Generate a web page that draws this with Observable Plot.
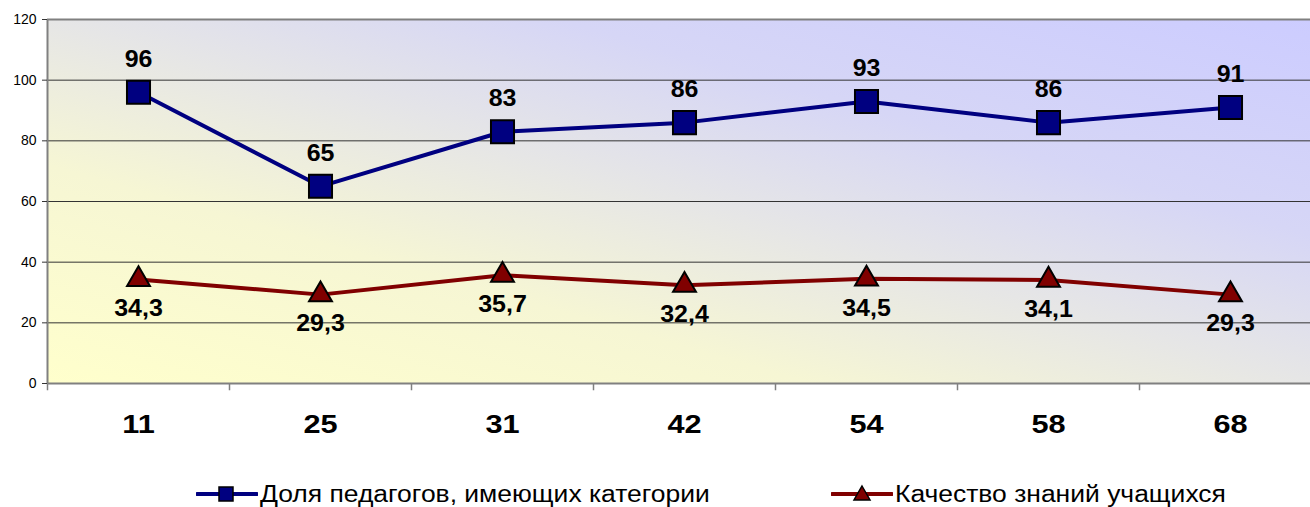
<!DOCTYPE html>
<html>
<head>
<meta charset="utf-8">
<script src="https://cdn.jsdelivr.net/npm/d3@7"></script>
<script src="https://cdn.jsdelivr.net/npm/@observablehq/plot@0.6"></script>
<style>
  html, body { margin: 0; padding: 0; background: #fff; overflow: hidden; }
  #chart svg { overflow: hidden; }
  .legend { position: relative; height: 57px; font-family: "Liberation Sans", Arial, sans-serif; font-size: 23px; color: #000; }
  .legend .item { position: absolute; top: 32px; height: 24px; }
  .legend svg { position: absolute; left: 0; top: 0; display: block; }
  .legend span { position: absolute; left: 64px; top: 50%; white-space: nowrap; line-height: 1; transform: translateY(-50%) scaleX(1.15); transform-origin: left center; }
</style>
</head>
<body>
<div id="chart"></div>
<div class="legend" id="legend"></div>
<script>
const categories = ["11", "25", "31", "42", "54", "58", "68"];
const teachersShare = [96, 65, 83, 86, 93, 86, 91];
const knowledgeQuality = [34.3, 29.3, 35.7, 32.4, 34.5, 34.1, 29.3];
const yTicks = [0, 20, 40, 60, 80, 100, 120];
const seriesNames = ["Доля педагогов, имеющих категории", "Качество знаний учащихся"];

const blue = categories.map((c, i) => ({cat: c, value: teachersShare[i], label: String(teachersShare[i])}));
const red = categories.map((c, i) => ({cat: c, value: knowledgeQuality[i], label: String(knowledgeQuality[i]).replace(".", ",")}));

const font = "'Liberation Sans', Arial, sans-serif";

const chart = Plot.plot({
  width: 1310,
  height: 450,
  marginLeft: 47,
  marginRight: -11,
  marginTop: 19,
  marginBottom: 67,
  style: {fontFamily: font, background: "transparent", overflow: "hidden"},
  x: {type: "band", domain: categories, padding: 0, axis: null},
  y: {domain: [0, 120], axis: null},
  marks: [
    Plot.frame({fill: "url(#bgGrad)", stroke: "none"}),
    Plot.ruleY(yTicks.slice(1, -1), {stroke: "#333", strokeWidth: 1}),
    Plot.ruleY([0, 120], {stroke: "#808080", strokeWidth: 2}),
    Plot.ruleX(categories, {x: d => d, dx: -91, y1: 0, y2: -2.4, stroke: "#808080", strokeWidth: 1.5}),
    Plot.ruleX([categories[0]], {x: d => d, dx: -91, y1: 120, y2: 0, stroke: "#808080", strokeWidth: 2}),
    Plot.axisY({ticks: yTicks, tickSize: 5, tickPadding: 6, fontSize: 14, stroke: "#333", color: "#000", label: null}),
    Plot.axisX({tickSize: 0, tickPadding: 31, fontSize: 26, fontWeight: "bold", color: "#000", label: null}),
    Plot.line(blue, {x: "cat", y: "value", stroke: "#000080", strokeWidth: 4}),
    Plot.dot(blue, {x: "cat", y: "value", symbol: "square", r: 13, fill: "#000080", stroke: "#000", strokeWidth: 2}),
    Plot.text(blue, {x: "cat", y: "value", text: "label", dy: -33, fontSize: 24, fontWeight: "bold", fill: "#000"}),
    Plot.line(red, {x: "cat", y: "value", stroke: "#800000", strokeWidth: 4}),
    Plot.dot(red, {x: "cat", y: "value", symbol: "triangle", r: 8.5, fill: "#800000", stroke: "#000", strokeWidth: 2}),
    Plot.text(red, {x: "cat", y: "value", text: "label", dy: 29, fontSize: 24, fontWeight: "bold", fill: "#000"})
  ]
});

// background gradient (yellow bottom-left to lavender top-right)
const svgSel = d3.select(chart);
const defs = svgSel.insert("defs", ":first-child");
const grad = defs.append("linearGradient").attr("id", "bgGrad")
  .attr("x1", "0").attr("y1", "1").attr("x2", "1").attr("y2", "0");
[["0", "#ffffcc"], ["0.3", "#f6f6d4"], ["0.5", "#e6e6e6"], ["0.7", "#d6d6f6"], ["1", "#ccccff"]]
  .forEach(([o, c]) => grad.append("stop").attr("offset", o).attr("stop-color", c));

// slightly wider glyphs for the category labels, as in the reference
svgSel.selectAll('g[aria-label="x-axis tick label"] text').each(function() {
  const t = this.getAttribute("transform") || "";
  this.setAttribute("transform", t + " scale(1.18,1)");
});
svgSel.selectAll('g[aria-label="text"] text').each(function() {
  const t = this.getAttribute("transform") || "";
  this.setAttribute("transform", t + " scale(1.04,1)");
});

document.getElementById("chart").appendChild(chart);

// legend
const legend = document.getElementById("legend");
function addItem(left, name, color, shape) {
  const item = document.createElement("div");
  item.className = "item";
  item.style.left = left + "px";
  const s = d3.create("svg").attr("width", 62).attr("height", 24);
  s.append("line").attr("x1", 1).attr("x2", 61).attr("y1", 12).attr("y2", 12)
    .attr("stroke", color).attr("stroke-width", 4).attr("stroke-linecap", "round");
  if (shape === "square") {
    s.append("rect").attr("x", 23).attr("y", 5).attr("width", 14).attr("height", 14)
      .attr("fill", color).attr("stroke", "#000").attr("stroke-width", 1.5);
  } else {
    s.append("path").attr("d", "M31,4 L39,18 L23,18 Z")
      .attr("fill", color).attr("stroke", "#000").attr("stroke-width", 1.5);
  }
  item.appendChild(s.node());
  const t = document.createElement("span");
  t.textContent = name;
  item.appendChild(t);
  legend.appendChild(item);
}
addItem(196, seriesNames[0], "#000080", "square");
addItem(831, seriesNames[1], "#800000", "triangle");
</script>
</body>
</html>
